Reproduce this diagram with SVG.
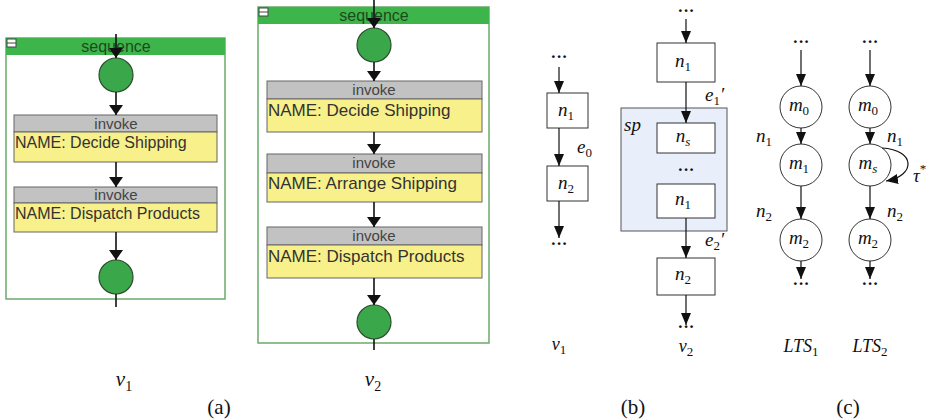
<svg xmlns="http://www.w3.org/2000/svg" width="931" height="420" viewBox="0 0 931 420">
  <defs>
    <marker id="headA" viewBox="0 0 10 14" refX="10" refY="7" markerWidth="10" markerHeight="14" markerUnits="userSpaceOnUse" orient="auto">
      <path d="M0,0 L10,7 L0,14 Z" fill="#111"/>
    </marker>
    <marker id="headB" viewBox="0 0 12 10" refX="12" refY="5" markerWidth="12" markerHeight="10" markerUnits="userSpaceOnUse" orient="auto">
      <path d="M0,0 L12,5 L0,10 Z" fill="#111"/>
    </marker>
    <style>
      .seq { fill: #ffffff; stroke: #6aaa6a; stroke-width: 1.5; }
      .seqhead { fill: #3db54a; }
      .seqtxt { font-family: "Liberation Sans", Arial, sans-serif; font-size: 16px; fill: #1d4a1d; text-anchor: middle; }
      .dot { fill: #3aa84a; stroke: #2d4d2d; stroke-width: 1.2; }
      .ghead { fill: #c2c2c2; stroke: #666; stroke-width: 1; }
      .gbody { fill: #f8f08a; stroke: #666; stroke-width: 1; }
      .inv { font-family: "Liberation Sans", Arial, sans-serif; font-size: 15px; fill: #444; text-anchor: middle; }
      .nm { font-family: "Liberation Sans", Arial, sans-serif; font-size: 16px; fill: #333; }
      .nm2 { font-family: "Liberation Sans", Arial, sans-serif; font-size: 17px; fill: #333; }
      .flowA { stroke: #111; stroke-width: 1.6; fill: none; marker-end: url(#headA); }
      .flowA0 { stroke: #111; stroke-width: 1.6; fill: none; }
      .box { fill: #ffffff; stroke: #333; stroke-width: 1; }
      .spbox { fill: #e8eefa; stroke: #555; stroke-width: 1; }
      .st { fill: #ffffff; stroke: #333; stroke-width: 1; }
      .flowB { stroke: #111; stroke-width: 1.2; fill: none; marker-end: url(#headB); }
      .m { font-family: "Liberation Serif", "DejaVu Serif", serif; font-style: italic; font-size: 19px; fill: #111; }
      .mc { font-family: "Liberation Serif", "DejaVu Serif", serif; font-style: italic; font-size: 19px; fill: #111; text-anchor: middle; }
      .sub { font-size: 13px; font-style: normal; }
      .subi { font-size: 13px; }
      .dots { font-family: "Liberation Serif", "DejaVu Serif", serif; font-size: 17px; font-weight: bold; fill: #111; text-anchor: middle; }
      .cap { font-family: "Liberation Serif", "DejaVu Serif", serif; font-size: 21px; fill: #111; text-anchor: middle; }
      .capi { font-family: "Liberation Serif", "DejaVu Serif", serif; font-style: italic; font-size: 21px; fill: #111; text-anchor: middle; }
    </style>
  </defs>

  <!-- (a) BPEL sequence, version v1 -->
  <g id="seq-v1">
    <rect class="seq" x="6" y="38" width="219" height="261"/>
    <rect class="seqhead" x="6" y="38" width="219" height="17"/>
    <rect x="7" y="39" width="9" height="8" fill="#fff" stroke="#444" stroke-width="1"/>
    <line x1="7" y1="43" x2="16" y2="43" stroke="#444" stroke-width="1"/>
    <text class="seqtxt" x="116" y="52">sequence</text>
  </g>
  <g id="v1-start"><circle class="dot" cx="116" cy="75" r="17"/></g>
  <g id="v1-decide">
    <rect class="ghead" x="14" y="115" width="203" height="17"/>
    <rect class="gbody" x="14" y="132" width="203" height="30"/>
    <text class="inv" x="116" y="129">invoke</text>
    <text class="nm" x="15" y="148">NAME: Decide Shipping</text>
  </g>
  <g id="v1-dispatch">
    <rect class="ghead" x="14" y="187" width="203" height="16"/>
    <rect class="gbody" x="14" y="203" width="203" height="29"/>
    <text class="inv" x="116" y="200">invoke</text>
    <text class="nm" x="15" y="219">NAME: Dispatch Products</text>
  </g>
  <g id="v1-end"><circle class="dot" cx="116" cy="277" r="17"/></g>

  <!-- (a) BPEL sequence, version v2 -->
  <g id="seq-v2">
    <rect class="seq" x="258" y="7" width="231" height="336"/>
    <rect class="seqhead" x="258" y="7" width="231" height="17"/>
    <rect x="259" y="8" width="9" height="8" fill="#fff" stroke="#444" stroke-width="1"/>
    <line x1="259" y1="12" x2="268" y2="12" stroke="#444" stroke-width="1"/>
    <text class="seqtxt" x="374" y="21">sequence</text>
  </g>
  <g id="v2-start"><circle class="dot" cx="374" cy="45" r="17"/></g>
  <g id="v2-decide">
    <rect class="ghead" x="267" y="81" width="215" height="18"/>
    <rect class="gbody" x="267" y="99" width="215" height="33"/>
    <text class="inv" x="374" y="95">invoke</text>
    <text class="nm2" x="268" y="116">NAME: Decide Shipping</text>
  </g>
  <g id="v2-arrange">
    <rect class="ghead" x="267" y="154" width="215" height="19"/>
    <rect class="gbody" x="267" y="173" width="215" height="29"/>
    <text class="inv" x="374" y="168">invoke</text>
    <text class="nm2" x="268" y="189">NAME: Arrange Shipping</text>
  </g>
  <g id="v2-dispatch">
    <rect class="ghead" x="267" y="227" width="215" height="18"/>
    <rect class="gbody" x="267" y="245" width="215" height="33"/>
    <text class="inv" x="374" y="241">invoke</text>
    <text class="nm2" x="268" y="262">NAME: Dispatch Products</text>
  </g>
  <g id="v2-end"><circle class="dot" cx="374" cy="322" r="17"/></g>

  <!-- (b) process graphs v1 and v2 -->
  <g id="b-v1-n1">
    <rect class="box" x="547" y="93" width="41" height="35"/>
    <text class="mc" x="566" y="116">n<tspan class="sub" dy="4">1</tspan></text>
  </g>
  <g id="b-v1-n2">
    <rect class="box" x="547" y="166" width="41" height="35"/>
    <text class="mc" x="566" y="189">n<tspan class="sub" dy="4">2</tspan></text>
  </g>
  <g id="b-sp">
    <rect class="spbox" x="621" y="108" width="106" height="123"/>
    <text class="m" x="624" y="131">sp</text>
  </g>
  <g id="b-v2-n1">
    <rect class="box" x="657" y="43" width="58" height="39"/>
    <text class="mc" x="683" y="67">n<tspan class="sub" dy="4">1</tspan></text>
  </g>
  <g id="b-v2-ns">
    <rect class="box" x="657" y="123" width="58" height="30"/>
    <text class="mc" x="683" y="142">n<tspan class="subi" dy="4">s</tspan></text>
  </g>
  <g id="b-v2-n1b">
    <rect class="box" x="657" y="184" width="58" height="34"/>
    <text class="mc" x="683" y="205">n<tspan class="sub" dy="4">1</tspan></text>
  </g>
  <g id="b-v2-n2">
    <rect class="box" x="657" y="258" width="58" height="37"/>
    <text class="mc" x="683" y="280">n<tspan class="sub" dy="4">2</tspan></text>
  </g>

  <!-- (c) labelled transition systems -->
  <g id="lts1-m0"><circle class="st" cx="801" cy="107" r="21"/><text class="mc" x="799" y="111">m<tspan class="sub" dy="4">0</tspan></text></g>
  <g id="lts1-m1"><circle class="st" cx="801" cy="165" r="21"/><text class="mc" x="799" y="169">m<tspan class="sub" dy="4">1</tspan></text></g>
  <g id="lts1-m2"><circle class="st" cx="801" cy="240" r="21"/><text class="mc" x="799" y="244">m<tspan class="sub" dy="4">2</tspan></text></g>
  <g id="lts2-m0"><circle class="st" cx="870" cy="107" r="21"/><text class="mc" x="868" y="111">m<tspan class="sub" dy="4">0</tspan></text></g>
  <g id="lts2-ms"><circle class="st" cx="870" cy="165" r="21"/><text class="mc" x="868" y="169">m<tspan class="subi" dy="4">s</tspan></text></g>
  <g id="lts2-m2"><circle class="st" cx="870" cy="240" r="21"/><text class="mc" x="868" y="244">m<tspan class="sub" dy="4">2</tspan></text></g>

  <!-- connectors -->
  <g id="connectors">
    <!-- v1 -->
    <line class="flowA" x1="116" y1="34" x2="116" y2="58"/>
    <line class="flowA" x1="116" y1="92" x2="116" y2="115"/>
    <line class="flowA" x1="116" y1="162" x2="116" y2="187"/>
    <line class="flowA" x1="116" y1="232" x2="116" y2="260"/>
    <line class="flowA0" x1="116" y1="294" x2="116" y2="307"/>
    <!-- v2 -->
    <line class="flowA" x1="374" y1="0" x2="374" y2="28"/>
    <line class="flowA" x1="374" y1="62" x2="374" y2="81"/>
    <line class="flowA" x1="374" y1="132" x2="374" y2="154"/>
    <line class="flowA" x1="374" y1="202" x2="374" y2="227"/>
    <line class="flowA" x1="374" y1="278" x2="374" y2="305"/>
    <line class="flowA0" x1="374" y1="339" x2="374" y2="350"/>
    <!-- (b) v1 -->
    <line class="flowB" x1="559" y1="67" x2="559" y2="93"/>
    <line class="flowB" x1="559" y1="128" x2="559" y2="166"/>
    <line class="flowB" x1="559" y1="201" x2="559" y2="238"/>
    <!-- (b) v2 -->
    <line class="flowB" x1="686" y1="19" x2="686" y2="43"/>
    <line class="flowB" x1="686" y1="82" x2="686" y2="123"/>
    <line class="flowB" x1="686" y1="218" x2="686" y2="258"/>
    <line class="flowB" x1="686" y1="295" x2="686" y2="325"/>
    <!-- (c) LTS1 -->
    <line class="flowB" x1="801" y1="50" x2="801" y2="86"/>
    <line class="flowB" x1="801" y1="128" x2="801" y2="144"/>
    <line class="flowB" x1="801" y1="186" x2="801" y2="219"/>
    <line class="flowB" x1="801" y1="261" x2="801" y2="279"/>
    <!-- (c) LTS2 -->
    <line class="flowB" x1="870" y1="50" x2="870" y2="86"/>
    <line class="flowB" x1="870" y1="128" x2="870" y2="144"/>
    <line class="flowB" x1="870" y1="186" x2="870" y2="219"/>
    <line class="flowB" x1="870" y1="261" x2="870" y2="279"/>
    <!-- tau self-loop on m_s -->
    <path class="flowB" d="M882,148 C916,150 916,176 886,181"/>
  </g>

  <!-- edge labels and ellipses -->
  <g id="labels">
    <text class="dots" x="559" y="62">···</text>
    <text class="m" x="577" y="153">e<tspan class="sub" dy="4">0</tspan></text>
    <text class="dots" x="559" y="249">···</text>
    <text class="capi" x="559" y="350" style="font-size:18px">v<tspan class="sub" dy="4">1</tspan></text>

    <text class="dots" x="686" y="16">···</text>
    <text class="m" x="705" y="101">e<tspan class="sub" dy="4">1</tspan><tspan dy="-4">′</tspan></text>
    <text class="dots" x="686" y="175">···</text>
    <text class="m" x="705" y="246">e<tspan class="sub" dy="4">2</tspan><tspan dy="-4">′</tspan></text>
    <text class="dots" x="686" y="332">···</text>
    <text class="capi" x="686" y="352" style="font-size:18px">v<tspan class="sub" dy="4">2</tspan></text>

    <text class="dots" x="801" y="47">···</text>
    <text class="m" x="756" y="142">n<tspan class="sub" dy="4">1</tspan></text>
    <text class="m" x="756" y="217">n<tspan class="sub" dy="4">2</tspan></text>
    <text class="dots" x="801" y="289">···</text>
    <text class="capi" x="801" y="352" style="font-size:18px">LTS<tspan class="sub" dy="4">1</tspan></text>

    <text class="dots" x="870" y="47">···</text>
    <text class="m" x="887" y="142">n<tspan class="sub" dy="4">1</tspan></text>
    <text class="m" x="887" y="217">n<tspan class="sub" dy="4">2</tspan></text>
    <text class="m" x="913" y="182">τ<tspan class="sub" dy="-9">*</tspan></text>
    <text class="dots" x="870" y="289">···</text>
    <text class="capi" x="870" y="352" style="font-size:18px">LTS<tspan class="sub" dy="4">2</tspan></text>
  </g>

  <!-- captions -->
  <g id="captions">
    <text class="capi" x="124" y="386">v<tspan class="sub" dy="5" style="font-size:14px">1</tspan></text>
    <text class="capi" x="373" y="386">v<tspan class="sub" dy="5" style="font-size:14px">2</tspan></text>
    <text class="cap" x="219" y="414">(a)</text>
    <text class="cap" x="633" y="414">(b)</text>
    <text class="cap" x="848" y="414">(c)</text>
  </g>
</svg>
